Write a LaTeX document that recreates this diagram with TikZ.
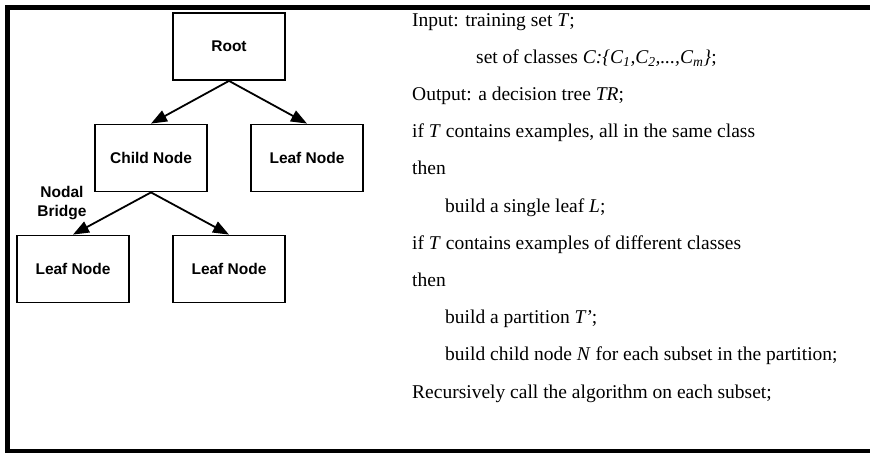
\documentclass[tikz,border=0pt]{standalone}
\usepackage{fontspec}
\setmainfont{Liberation Serif}
\newfontfamily\treefont{Liberation Sans}
\usetikzlibrary{arrows.meta}
\begin{document}
\begin{tikzpicture}[x=1pt,y=-1pt,
  box/.style={draw, line width=1.8pt, minimum width=112pt, minimum height=67pt, inner sep=0pt,
    font=\treefont\bfseries\fontsize{15.5}{18}\selectfont},
  arr/.style={line width=1.8pt, -{Triangle[length=16pt,width=12pt]}},
  alg/.style={anchor=base west, inner sep=0pt, font=\fontsize{19.5}{22}\selectfont},
  lbl/.style={align=center, inner sep=0pt, font=\treefont\bfseries\fontsize{15.5}{19}\selectfont}]
\useasboundingbox (0,0) rectangle (870,453);
% frame
\fill (5,5) rectangle (870,10);
\fill (5,5) rectangle (10,453);
\fill (5,449) rectangle (870,453);
% tree
\node[box] (root) at (229,46.5) {Root};
\node[box] (child) at (151,158) {Child Node};
\node[box] (leafR) at (307,158) {Leaf Node};
\node[box] (leafA) at (73,269) {Leaf Node};
\node[box] (leafB) at (229,269) {Leaf Node};
\draw[arr] (root.south) -- (child.north);
\draw[arr] (root.south) -- (leafR.north);
\draw[arr] (child.south) -- (leafA.north);
\draw[arr] (child.south) -- (leafB.north);
\node[lbl] (nb) at (62,203) {Nodal\\Bridge};
% algorithm
\node[alg] (l1) at (412,26) {Input: training set \textit{T};};
\node[alg] (l2) at (476,63.2) {set of classes \textit{C:\{C\textsubscript{1},C\textsubscript{2},...,C\textsubscript{m}\}};};
\node[alg] (l3) at (412,100.4) {Output: a decision tree \textit{TR};};
\node[alg] (l4) at (412,137.6) {if \textit{T} contains examples, all in the same class};
\node[alg] (l5) at (412,174.8) {then};
\node[alg] (l6) at (445,212) {build a single leaf \textit{L};};
\node[alg] (l7) at (412,249.2) {if \textit{T} contains examples of different classes};
\node[alg] (l8) at (412,286.4) {then};
\node[alg] (l9) at (445,323.6) {build a partition \textit{T’};};
\node[alg] (l10) at (445,360.8) {build child node \textit{N} for each subset in the partition;};
\node[alg] (l11) at (412,398) {Recursively call the algorithm on each subset;};
\end{tikzpicture}
\end{document}
